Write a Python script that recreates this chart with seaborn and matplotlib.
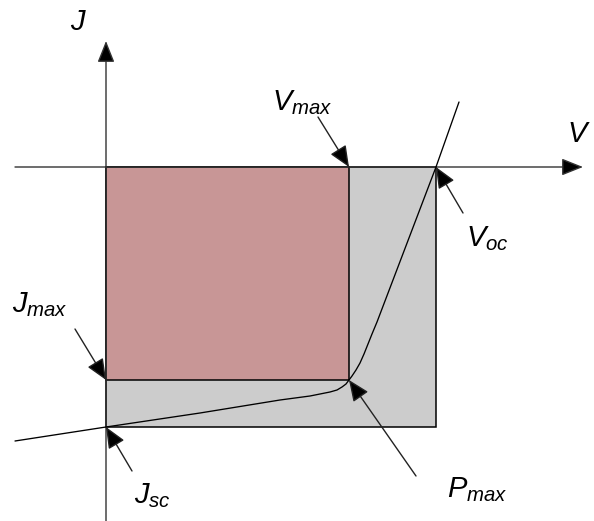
import matplotlib
matplotlib.use("Agg")
import matplotlib.pyplot as plt
from matplotlib.patches import Rectangle
import seaborn as sns
import pandas as pd

sns.set_theme(style="white")
plt.rcParams["font.family"] = ["Liberation Sans", "DejaVu Sans"]
plt.rcParams["mathtext.fontset"] = "custom"
plt.rcParams["mathtext.it"] = "Liberation Sans:italic"
plt.rcParams["mathtext.rm"] = "Liberation Sans"

# Characteristic points of the cell (V in volts, J in mA/cm^2)
V_oc = 0.66
V_max = 0.486
J_sc = -26.0
J_max = -21.3

# Sampled J-V curve
curve_V = [-0.182, 0.0, 0.188, 0.348, 0.408, 0.428, 0.448, 0.462, 0.472,
           0.480, 0.486, 0.492, 0.500, 0.508, 0.516, 0.524, 0.532, 0.542,
           0.66, 0.706]
curve_J = [-27.4, -26.0, -24.6, -23.3, -22.9, -22.7, -22.5, -22.3, -22.0,
           -21.7, -21.3, -20.9, -20.3, -19.6, -18.7, -17.7, -16.7, -15.5,
           0.0, 6.5]

curve = pd.DataFrame({"V": curve_V, "J": curve_J})

fig = plt.figure(figsize=(5.94, 5.21), dpi=100)
ax = fig.add_axes([0, 0, 1, 1])
ax.set_xlim(-0.212, 0.976)
ax.set_ylim(-35.4, 16.7)
ax.axis("off")

GREY = "#cccccc"
PINK = "#c89696"
AXIS = "#333333"

# Voc x Jsc rectangle and the maximum power rectangle
ax.add_patch(Rectangle((0, J_sc), V_oc, -J_sc, facecolor=GREY,
                       edgecolor="black", linewidth=1.1, zorder=1))
ax.add_patch(Rectangle((0, J_max), V_max, -J_max, facecolor=PINK,
                       edgecolor="black", linewidth=1.1, zorder=2))

# Coordinate axes with arrow heads
axis_arrow = dict(arrowstyle="-|>,head_length=0.6,head_width=0.24",
                  facecolor="black", edgecolor=AXIS, linewidth=1.0,
                  shrinkA=0, shrinkB=0, mutation_scale=22)
ax.annotate("", xy=(0.954, 0), xytext=(-0.182, 0), arrowprops=axis_arrow,
            zorder=3)
ax.annotate("", xy=(0, 12.6), xytext=(0, -35.4), arrowprops=axis_arrow,
            zorder=3)

# J-V curve
sns.lineplot(data=curve, x="V", y="J", sort=False, estimator=None,
             color="black", linewidth=0.95, ax=ax, zorder=4)

label_kw = dict(fontsize=21, color="black", va="baseline", ha="left",
                textcoords="offset pixels", annotation_clip=False)

ax.annotate("$J$", xy=(0, 12.6), xytext=(-36, 11), **label_kw)
ax.annotate("$V$", xy=(0.954, 0), xytext=(-16, 25), **label_kw)

pointer = dict(arrowstyle="-|>,head_length=0.65,head_width=0.28",
               facecolor="black", edgecolor="#222222", linewidth=1.0,
               shrinkA=0, shrinkB=0, mutation_scale=20)

marks = [
    ("$V_{max}$", (V_max, 0), (-31, 50), (-77, 57)),
    ("$V_{oc}$", (V_oc, 0), (27, -46), (30, -79)),
    ("$J_{max}$", (0, J_max), (-31, 51), (-94, 68)),
    ("$J_{sc}$", (0, J_sc), (26, -44), (28, -76)),
    ("$P_{max}$", (V_max, J_max), (67, -96), (98, -117)),
]
for text, target, tail, text_off in marks:
    ax.annotate("", xy=target, xytext=tail, textcoords="offset pixels",
                arrowprops=pointer, zorder=5)
    ax.annotate(text, xy=target, xytext=text_off, **label_kw)

fig.savefig("out.png", dpi=100)
